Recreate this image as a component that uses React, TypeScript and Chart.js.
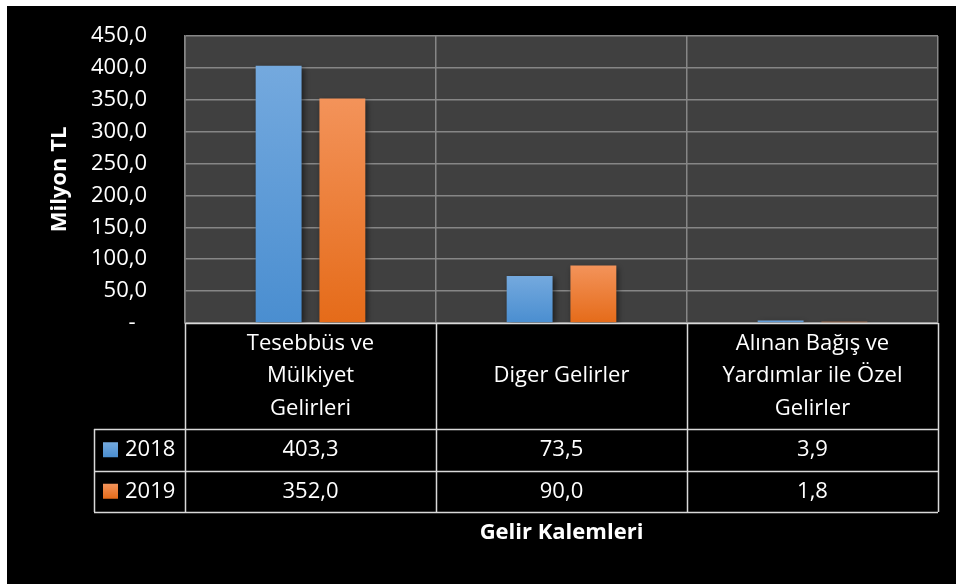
import React, { useEffect, useRef } from 'react';
import { Chart, registerables } from 'chart.js';

Chart.register(...registerables);

const categories: string[][] = [
  ['Tesebbüs ve', 'Mülkiyet', 'Gelirleri'],
  ['Diger Gelirler'],
  ['Alınan Bağış ve', 'Yardımlar ile Özel', 'Gelirler'],
];
const seriesNames = ['2018', '2019'];
const values2018 = [403.3, 73.5, 3.9];
const values2019 = [352.0, 90.0, 1.8];
const yTickLabels = ['-  ', '50,0', '100,0', '150,0', '200,0', '250,0', '300,0', '350,0', '400,0', '450,0'];
const yMin = 0;
const yMax = 450;
const yStep = 50;
const yTitle = 'Milyon TL';
const xTitle = 'Gelir Kalemleri';

const FONT = "'Open Sans', 'Liberation Sans', sans-serif";
const blueTop = '#74a9de';
const blueBottom = '#4a8ed0';
const orangeTop = '#f3935a';
const orangeBottom = '#e56b19';

const fmt = (v: number) => v.toFixed(1).replace('.', ',');

function barGradient(top: string, bottom: string) {
  return (c: any) => {
    const chart = c.chart;
    const { chartArea, scales } = chart;
    if (!chartArea || c.type !== 'data') return bottom;
    const y0 = scales.y.getPixelForValue(0);
    const y1 = scales.y.getPixelForValue(c.raw);
    if (Math.abs(y0 - y1) < 1) return top;
    const g = chart.ctx.createLinearGradient(0, y1, 0, y0);
    g.addColorStop(0, top);
    g.addColorStop(1, bottom);
    return g;
  };
}

const plotBgPlugin = {
  id: 'plotBg',
  beforeDraw(chart: any) {
    const { ctx, chartArea } = chart;
    ctx.save();
    ctx.fillStyle = '#000000';
    ctx.fillRect(0, 0, chart.width, chart.height);
    ctx.fillStyle = '#404040';
    ctx.fillRect(chartArea.left, chartArea.top, chartArea.right - chartArea.left, chartArea.bottom - chartArea.top);
    ctx.restore();
  },
};

const shadowPlugin = {
  id: 'barShadow',
  beforeDatasetsDraw(chart: any) {
    const ctx = chart.ctx;
    ctx.save();
    ctx.shadowColor = 'rgba(0,0,0,0.55)';
    ctx.shadowBlur = 6;
    ctx.shadowOffsetX = 2;
    ctx.shadowOffsetY = 2;
  },
  afterDatasetsDraw(chart: any) {
    chart.ctx.restore();
  },
};

const tablePlugin = {
  id: 'dataTable',
  afterDraw(chart: any) {
    const { ctx, chartArea } = chart;
    const x = chart.scales.x;
    const n = categories.length;
    const left = chartArea.left;
    const right = chartArea.right;
    const cw = (right - left) / n;
    const top = chartArea.bottom;
    const headerH = 106;
    const rowH = 41.5;
    const r1 = top + headerH;
    const r2 = r1 + rowH;
    const r3 = r2 + rowH;
    const legL = left - 91;

    ctx.save();
    ctx.strokeStyle = '#d9d9d9';
    ctx.lineWidth = 1.5;
    ctx.beginPath();
    for (let i = 0; i <= n; i++) {
      const xb = Math.round(left + i * cw) + 0.5;
      ctx.moveTo(xb, top);
      ctx.lineTo(xb, r3);
    }
    ctx.moveTo(left, top + 0.5);
    ctx.lineTo(right, top + 0.5);
    [r1, r2, r3].forEach((ry) => {
      ctx.moveTo(legL, Math.round(ry) + 0.5);
      ctx.lineTo(right, Math.round(ry) + 0.5);
    });
    ctx.moveTo(legL + 0.5, r1);
    ctx.lineTo(legL + 0.5, r3);
    ctx.stroke();

    ctx.fillStyle = '#ffffff';
    ctx.font = `22px ${FONT}`;
    ctx.textAlign = 'center';
    ctx.textBaseline = 'middle';
    const lineGap = 32.5;
    categories.forEach((lines, i) => {
      const cx = x.getPixelForValue(i);
      lines.forEach((t, j) => {
        const cy = top + headerH / 2 + (j - (lines.length - 1) / 2) * lineGap;
        ctx.fillText(t, cx, cy);
      });
    });

    const rows = [values2018, values2019];
    const grads = [
      [blueTop, blueBottom],
      [orangeTop, orangeBottom],
    ];
    rows.forEach((vals, ri) => {
      const rt = ri === 0 ? r1 : r2;
      const cy = rt + rowH / 2;
      vals.forEach((v, i) => {
        ctx.fillStyle = '#ffffff';
        ctx.textAlign = 'center';
        ctx.fillText(fmt(v), x.getPixelForValue(i), cy);
      });
      const sq = 15;
      const sx = legL + 9;
      const sy = cy - sq / 2;
      const g = ctx.createLinearGradient(0, sy, 0, sy + sq);
      g.addColorStop(0, grads[ri][0]);
      g.addColorStop(1, grads[ri][1]);
      ctx.fillStyle = g;
      ctx.fillRect(sx, sy, sq, sq);
      ctx.fillStyle = '#ffffff';
      ctx.textAlign = 'left';
      ctx.fillText(seriesNames[ri], legL + 31, cy);
    });
    ctx.restore();
  },
};

export default function App() {
  const ref = useRef<HTMLCanvasElement | null>(null);

  useEffect(() => {
    if (!ref.current) return;
    const chart = new Chart(ref.current, {
      type: 'bar',
      data: {
        labels: categories.map((c) => c.join(' ')),
        datasets: [
          {
            label: seriesNames[0],
            data: values2018,
            backgroundColor: barGradient(blueTop, blueBottom),
            borderWidth: 0,
            categoryPercentage: 0.508,
            barPercentage: 0.72,
          },
          {
            label: seriesNames[1],
            data: values2019,
            backgroundColor: barGradient(orangeTop, orangeBottom),
            borderWidth: 0,
            categoryPercentage: 0.508,
            barPercentage: 0.72,
          },
        ],
      },
      options: {
        responsive: false,
        animation: false,
        devicePixelRatio: 1,
        layout: { padding: { top: 30, right: 18, bottom: 0, left: 0 } },
        plugins: {
          legend: { display: false },
          tooltip: { enabled: false },
          title: { display: false },
        },
        scales: {
          x: {
            ticks: { display: false },
            grid: { color: '#868686', lineWidth: 1.5, drawTicks: false, offset: true },
            border: { display: false },
            title: {
              display: true,
              text: xTitle,
              color: '#ffffff',
              font: { family: FONT, size: 22, weight: 'bold' },
              padding: { top: 0, bottom: 38 },
            },
            afterFit(scale: any) {
              scale.height = 261;
            },
          },
          y: {
            min: yMin,
            max: yMax,
            ticks: {
              stepSize: yStep,
              color: '#ffffff',
              font: { family: FONT, size: 22 },
              padding: 0,
              callback: (_v: any, i: number) => yTickLabels[i],
            },
            grid: {
              color: '#868686',
              lineWidth: 1.5,
              drawTicks: true,
              tickLength: 38,
              tickColor: 'rgba(0,0,0,0)',
            },
            border: { display: true, color: '#868686', width: 1.5 },
            title: {
              display: true,
              text: yTitle,
              color: '#ffffff',
              font: { family: FONT, size: 22, weight: 'bold' },
              padding: { top: 40, bottom: 0 },
            },
            afterFit(scale: any) {
              scale.width = 178;
            },
          },
        },
      },
      plugins: [plotBgPlugin, shadowPlugin, tablePlugin],
    });
    return () => chart.destroy();
  }, []);

  return (
    <div style={{ position: 'fixed', left: 7, top: 6, width: 949, height: 578, background: '#000' }}>
      <canvas ref={ref} width={949} height={578} style={{ display: 'block', width: 949, height: 578 }} />
    </div>
  );
}
